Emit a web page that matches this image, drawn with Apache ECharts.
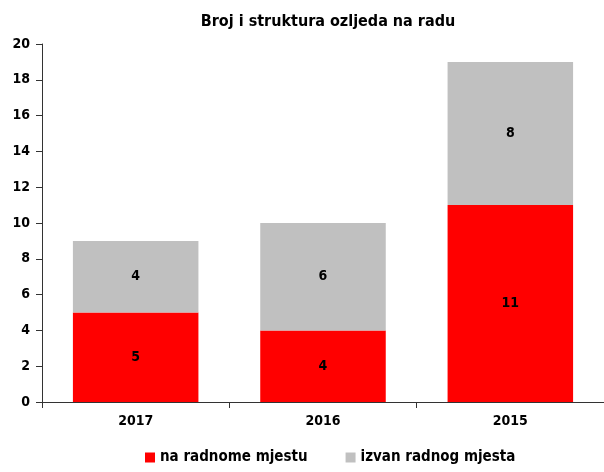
<!DOCTYPE html>
<html>
<head>
    <meta charset="utf-8">
    <title>Broj i struktura ozljeda na radu</title>
    <script src="https://cdn.jsdelivr.net/npm/echarts@6/dist/echarts.min.js"></script>
    <style>
        html, body { margin: 0; padding: 0; background: #fff; }
        #main { width: 604px; height: 472px; }
    </style>
</head>
<body>
<div id="main"></div>
<script>
    var fontName = '"DejaVu Sans Condensed", "Liberation Sans Narrow", sans-serif';

    var years = ['2017', '2016', '2015'];
    var naRadnomeMjestu = [5, 4, 11];
    var izvanRadnogMjesta = [4, 6, 8];
    var seriesNames = ['na radnome mjestu', 'izvan radnog mjesta'];

    var chart = echarts.init(document.getElementById('main'));

    var labelStyle = {
        show: true,
        position: 'inside',
        color: '#000',
        fontFamily: fontName,
        fontWeight: 'bold',
        fontSize: 14
    };

    var option = {
        backgroundColor: '#fff',
        animation: false,
        title: {
            text: 'Broj i struktura ozljeda na radu',
            left: 323,
            textAlign: 'center',
            top: 9,
            textStyle: {
                fontFamily: fontName,
                fontWeight: 'bold',
                fontSize: 16,
                color: '#000'
            }
        },
        legend: {
            bottom: 2,
            left: 140,
            itemWidth: 10,
            itemHeight: 10,
            itemGap: 38,
            icon: 'rect',
            textStyle: {
                fontFamily: fontName,
                fontWeight: 'bold',
                fontSize: 15,
                color: '#000'
            },
            data: seriesNames
        },
        grid: {
            left: 42,
            right: 0,
            top: 44,
            bottom: 70,
            containLabel: false
        },
        xAxis: {
            type: 'category',
            data: years,
            axisLine: { lineStyle: { color: '#333', width: 1 } },
            axisTick: { show: true, length: 6, lineStyle: { color: '#333' } },
            axisLabel: {
                margin: 12,
                color: '#000',
                fontFamily: fontName,
                fontWeight: 'bold',
                fontSize: 14
            }
        },
        yAxis: {
            type: 'value',
            min: 0,
            max: 20,
            interval: 2,
            splitLine: { show: false },
            axisLine: { show: true, lineStyle: { color: '#333', width: 1 } },
            axisTick: { show: true, length: 6, lineStyle: { color: '#333' } },
            axisLabel: {
                margin: 12,
                color: '#000',
                fontFamily: fontName,
                fontWeight: 'bold',
                fontSize: 14
            }
        },
        series: [
            {
                name: seriesNames[0],
                type: 'bar',
                stack: 'ukupno',
                barWidth: '67%',
                itemStyle: { color: '#ff0000' },
                label: labelStyle,
                data: naRadnomeMjestu
            },
            {
                name: seriesNames[1],
                type: 'bar',
                stack: 'ukupno',
                barWidth: '67%',
                itemStyle: { color: '#c0c0c0' },
                label: labelStyle,
                data: izvanRadnogMjesta
            }
        ]
    };

    chart.setOption(option);
</script>
</body>
</html>
